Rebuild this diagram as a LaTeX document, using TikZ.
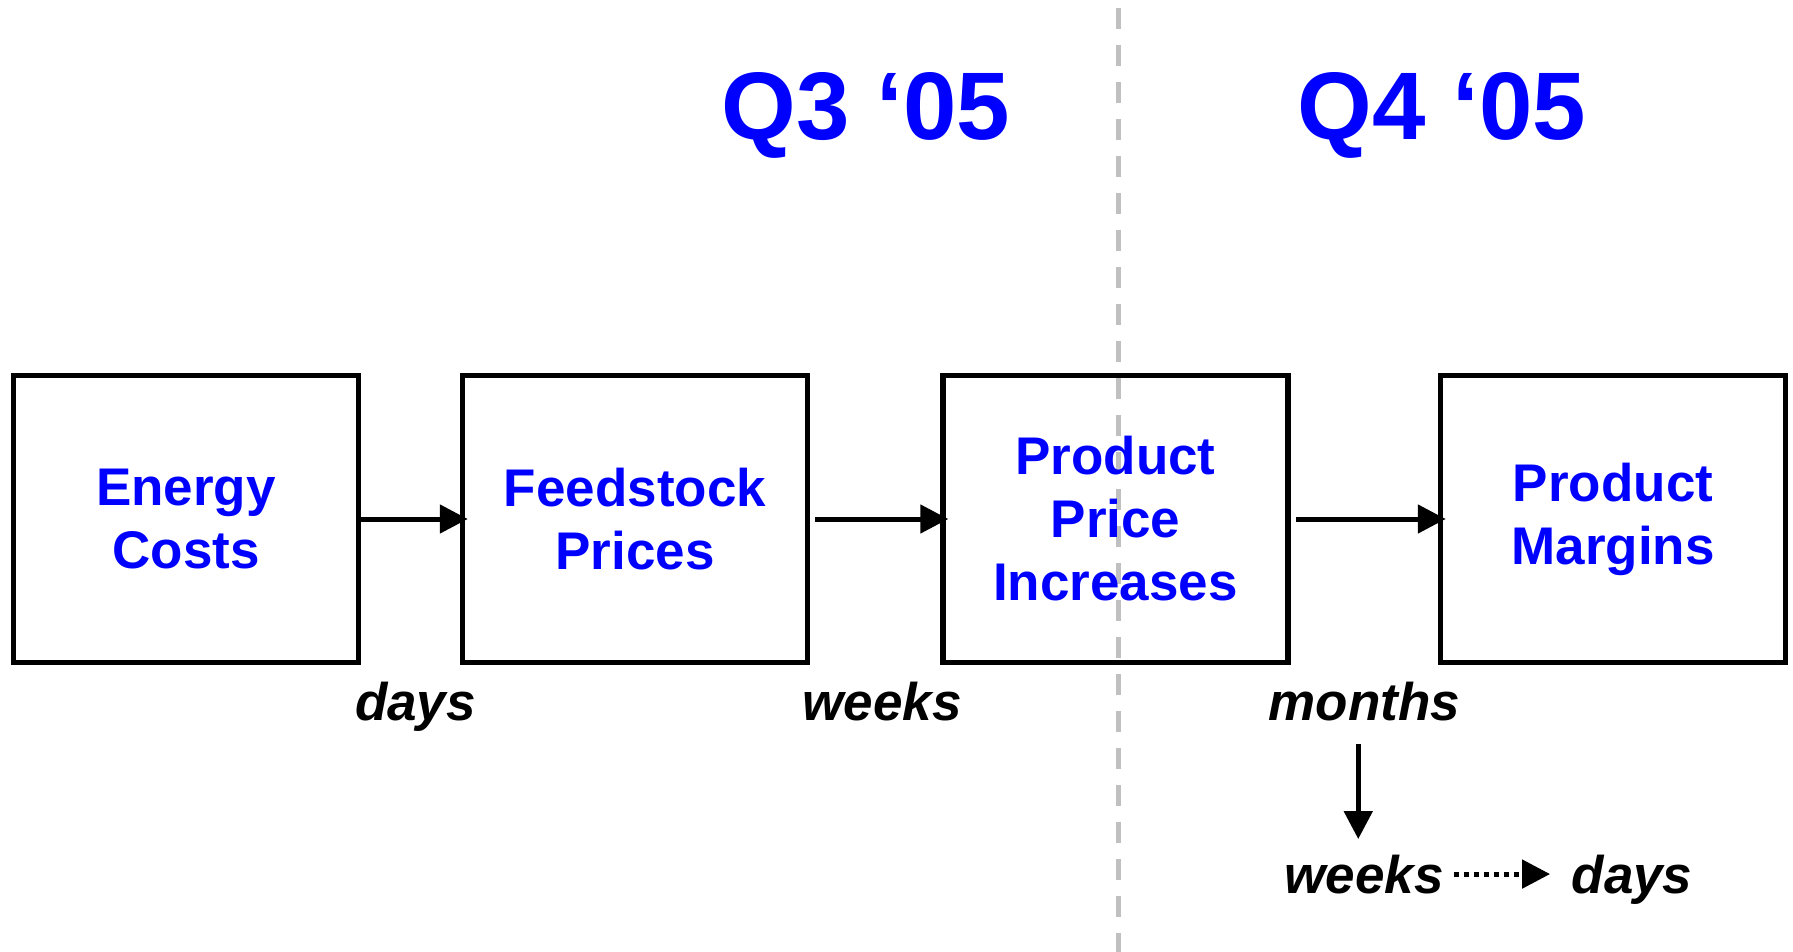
\documentclass[tikz,border=0pt]{standalone}
\usepackage{fontspec}
\setmainfont{Liberation Sans}
\usepackage{tikz}
\usetikzlibrary{positioning}
\usetikzlibrary{calc}
\usetikzlibrary{arrows.meta}
\definecolor{qblue}{RGB}{0,0,255}
\definecolor{qgray}{RGB}{192,192,192}

\begin{document}
\begin{tikzpicture}[x=1pt, y=-1pt,
    stage/.style={draw, line width=5.5pt, minimum width=345pt, minimum height=287pt, align=center,
        text=qblue, font=\fontsize{53}{63}\selectfont\bfseries},
    quarter/.style={text=qblue, anchor=base, font=\fontsize{96}{106}\selectfont\bfseries},
    lag/.style={anchor=base, font=\fontsize{53}{63}\selectfont\bfseries\itshape},
    arrow/.style={-{Triangle[length=28pt, width=28pt]}, line width=5pt},
]
\useasboundingbox (0,0) rectangle (1793,952);

% quarter divider
\coordinate (divtop) at (1118,8);
\coordinate (divbot) at (1118,952);
\draw[qgray, line width=5pt, dash pattern=on 21pt off 16pt] (divtop) -- (divbot);

\node[quarter] (q3) at (866,140) {Q3 ‘05};
\node[quarter] (q4) at (1442,140) {Q4 ‘05};

\node[stage] (energy) at (186,519) {Energy\\Costs};
\node[stage, right=98.5pt of energy] (feed) {Feedstock\\Prices};
\node[stage, right=130pt of feed] (price) {Product\\Price\\Increases};
\node[stage, right=147pt of price] (margin) {Product\\Margins};

\draw[arrow, shorten >=-8pt] (energy) -- (feed);
\draw[arrow, shorten <=5pt, shorten >=-8pt] (feed) -- (price);
\draw[arrow, shorten <=5pt, shorten >=-8pt] (price) -- (margin);

\node[lag] (days) at ($(energy.east)!0.5!(feed.west) + (5,201)$) {days};
\node[lag] (weeks) at ($(feed.east)!0.5!(price.west) + (7,201)$) {weeks};
\node[lag] (months) at ($(price.east)!0.5!(margin.west) + (0,201)$) {months};

\node[lag] (weeksnow) at (1364,893) {weeks};
\node[lag] (daysnow) at (1632,893) {days};

\coordinate (turn) at ([xshift=-6pt]months.south);
\draw[arrow, shorten <=20pt, shorten >=12pt] (turn) -- (turn |- weeksnow.north);
\draw[arrow, dash pattern=on 5pt off 5pt, shorten <=7pt, shorten >=18pt] (weeksnow.east) -- (weeksnow.east -| daysnow.west);

\end{tikzpicture}
\end{document}
